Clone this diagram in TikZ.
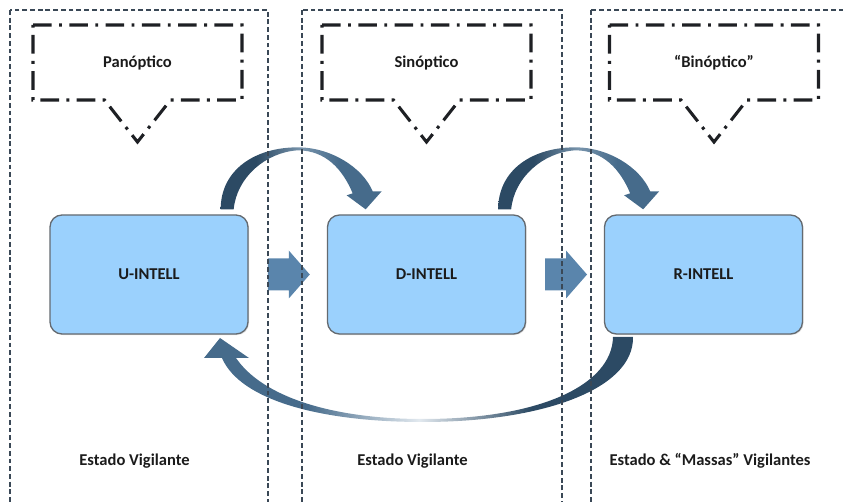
\documentclass[tikz,border=0pt]{standalone}
\usepackage{fontspec}
\setmainfont{Carlito}
\usetikzlibrary{calc,shadows}

\definecolor{boxfill}{RGB}{155,209,253}
\definecolor{boxline}{RGB}{100,106,112}
\definecolor{colline}{RGB}{58,72,86}
\definecolor{callline}{RGB}{30,32,36}
\definecolor{blockarrow}{RGB}{90,133,172}
\definecolor{arcA}{RGB}{44,74,100}
\definecolor{arcB}{RGB}{70,107,139}
\definecolor{arcC}{RGB}{120,148,172}
\definecolor{arcW}{RGB}{226,233,239}
\definecolor{txt}{RGB}{27,27,27}

% colour runs of the curved arrows, thin middle part lighter
\pgfdeclarehorizontalshading{topfade}{100bp}{color(0bp)=(arcA); color(36bp)=(arcA); color(50bp)=(arcC); color(62bp)=(arcB); color(100bp)=(arcB)}
\pgfdeclarehorizontalshading{botfade}{100bp}{color(0bp)=(arcB); color(37bp)=(arcB); color(50bp)=(arcW); color(63bp)=(arcA); color(100bp)=(arcA)}

\begin{document}
\begin{tikzpicture}[x=0.75pt,y=-0.75pt,
  ibox/.style={draw=boxline, line width=1pt, fill=boxfill, rounded corners=9pt,
    minimum width=148.5pt, minimum height=89.25pt, text=txt,
    font=\bfseries\fontsize{12.4}{14}\selectfont,
    drop shadow={shadow xshift=0.8pt, shadow yshift=-0.8pt, opacity=0.25}},
  ctext/.style={text=txt, font=\bfseries\fontsize{12.4}{14}\selectfont},
  lbl/.style={text=txt, font=\bfseries\fontsize{12.4}{14}\selectfont},
  column/.style={draw=colline, line width=1.1pt, dash pattern=on 3.6pt off 2.2pt},
  callout/.style={draw=callline, line width=2.3pt, dash pattern=on 14pt off 5.5pt on 2.2pt off 5.5pt},
  barrow/.style={fill=blockarrow},
  toparc/.style={shading=topfade},
  botarc/.style={shading=botfade}]

\useasboundingbox (0,0) rectangle (843,502);

% main blocks
\node[ibox] (U) at (149,274.5) {U-INTELL};
\node[ibox] (D) at (426.5,274.5) {D-INTELL};
\node[ibox] (R) at (703.5,274.5) {R-INTELL};

% callout texts
\node[ctext] (cP) at (137.5,62.5) {Panóptico};
\node[ctext] (cS) at (426.5,62.5) {Sinóptico};
\node[ctext] (cB) at (714,62.5) {“Binóptico”};

% callout outlines round each text
\foreach \c in {cP,cS,cB}{
  \begin{scope}[shift={(\c.center)}]
    \draw[callout] (-104.5,-37.5) -- (104.5,-37.5) -- (104.5,37.5) -- (33,37.5)
      -- (0,79.5) -- (-33,37.5) -- (-104.5,37.5) -- cycle;
  \end{scope}
}

% bottom labels
\node[lbl] (l1) at (134.5,461) {Estado Vigilante};
\node[lbl] (l2) at (412.5,461) {Estado Vigilante};
\node[lbl] (l3) at (710,461) {Estado \& “Massas” Vigilantes};

% block arrows between neighbouring blocks
\foreach \a/\b in {U/D, D/R}{
  \begin{scope}[shift={($(\a.east)!0.5!(\b.west)$)}]
    \fill[barrow] (-20,-16) -- (1,-16) -- (1,-24) -- (22,0) -- (1,24) -- (1,16)
      -- (-20,16) -- cycle;
  \end{scope}
}

% curved arrows over the top, from each block to the next
\foreach \a in {U,D}{
  \begin{scope}[shift={(\a.north east)}]
    \path[toparc] (-28,-5) .. controls (-28,-45) and (7,-67) .. (49,-67)
      .. controls (82,-67) and (114,-47) .. (124,-23)
      -- (133,-23) -- (117,-5) -- (98,-19) -- (104,-21)
      .. controls (94,-45) and (77,-64) .. (49,-64)
      .. controls (17,-62) and (-12,-37) .. (-15,-5) -- cycle;
  \end{scope}
}

% long return arrow underneath, from R-INTELL back to U-INTELL
\path[botarc] (633,337) .. controls (634,390) and (540,422) .. (423,422)
  .. controls (320,422) and (240,400) .. (222,358)
  -- (204,358) -- (220,338) -- (249,358) -- (236,358)
  .. controls (262,396) and (330,419) .. (423,419)
  .. controls (540,419) and (612,385) .. (613,337) -- cycle;

% dashed columns
\begin{scope}
  \clip (0,0) rectangle (843,502);
  \draw[column] (10,10) rectangle (268,530);
  \draw[column] (302,10) rectangle (562,530);
  \draw[column] (591,10) rectangle (870,530);
\end{scope}
\end{tikzpicture}
\end{document}
